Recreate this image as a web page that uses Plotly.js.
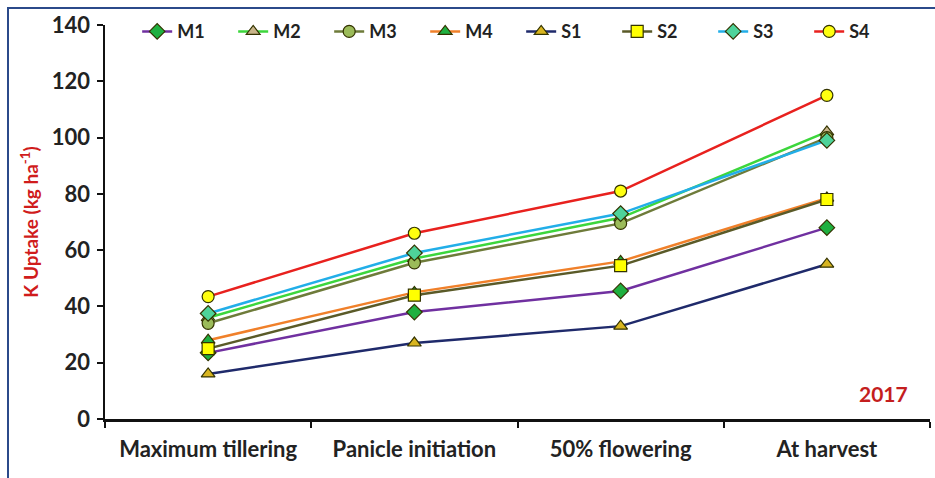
<!DOCTYPE html>
<html>
<head>
<meta charset="utf-8">
<script src="https://cdn.plot.ly/plotly-3.0.1.min.js"></script>
<style>
  html, body { margin: 0; padding: 0; background: #fff; }
  #wrap { position: relative; width: 935px; height: 478px; overflow: hidden; }
  #chart { width: 935px; height: 478px; }
  #frame { position: absolute; left: 7px; top: 7px; width: 940px; height: 490px;
           border-left: 2px solid #2B4A8A; border-top: 2px solid #2B4A8A; pointer-events: none; }
</style>
</head>
<body>
<div id="wrap"><div id="chart"></div><div id="frame"></div></div>
<script>
const stages = ["Maximum tillering", "Panicle initiation", "50% flowering", "At harvest"];

const M1 = [23.5, 38, 45.5, 68];
const M2 = [36, 57, 71.5, 102];
const M3 = [34, 55.5, 69.5, 100];
const M4 = [28, 45, 56, 78.5];
const S1 = [16, 27, 33, 55];
const S2 = [25, 44, 54.5, 78];
const S3 = [37.5, 59, 73, 99];
const S4 = [43.5, 66, 81, 115];

const seriesNames = ["M1", "M2", "M3", "M4", "S1", "S2", "S3", "S4"];
const seriesData = [M1, M2, M3, M4, S1, S2, S3, S4];
const lineColors = ["#7030A0", "#3CD63C", "#6E7B3A", "#F0802A", "#1F2A6B", "#5A5A28", "#22AEE8", "#E8211E"];
const markerSymbols = ["diamond", "triangle-up", "circle", "triangle-up", "triangle-up", "square", "diamond", "circle"];
const markerFills = ["#1FB040", "#C9B58A", "#9BBB59", "#1FB040", "#D8B520", "#FFFF00", "#4ED39A", "#FFFF10"];

const traces = seriesNames.map((n, i) => ({
  type: "scatter",
  mode: "lines+markers",
  name: n,
  x: stages,
  y: seriesData[i],
  line: { color: lineColors[i], width: 2.5 },
  marker: { symbol: markerSymbols[i], size: 12, color: markerFills[i],
            line: { color: "#333300", width: 1.2 } }
}));

const layout = {
  width: 935, height: 478,
  margin: { l: 105, r: 5, t: 25, b: 59 },
  paper_bgcolor: "#fff", plot_bgcolor: "#fff",
  font: { family: "Lato, 'Open Sans', sans-serif", color: "#222" },
  showlegend: true,
  legend: {
    orientation: "h", x: 0.039, y: 1.03, xanchor: "left", yanchor: "top",
    entrywidth: 51, entrywidthmode: "pixels",
    font: { size: 18, family: "Lato, sans-serif", weight: "bold", color: "#222" },
    bgcolor: "rgba(0,0,0,0)", traceorder: "normal"
  },
  xaxis: {
    type: "category", range: [-0.5, 3.5], autorange: false,
    showline: true, linecolor: "#111", linewidth: 2.5,
    ticks: "outside", ticklen: 6, tickwidth: 2, tickcolor: "#111",
    tickson: "boundaries", ticklabelstandoff: 9,
    showgrid: false, zeroline: false,
    tickfont: { size: 22, family: "Lato, sans-serif", weight: "bold", color: "#222" }
  },
  yaxis: {
    range: [0, 140], dtick: 20, autorange: false,
    showline: true, linecolor: "#111", linewidth: 2.5,
    ticks: "outside", ticklen: 6, tickwidth: 2, tickcolor: "#111",
    showgrid: false, zeroline: false, ticklabelstandoff: 2,
    tickfont: { size: 22, family: "Lato, sans-serif", weight: "bold", color: "#222" },
    title: { text: "K Uptake (kg ha<sup>-1</sup>)", standoff: 8,
             font: { size: 19, family: "Lato, sans-serif", weight: "bold", color: "#D01C1C" } }
  },
  annotations: [{
    xref: "paper", yref: "paper", x: 0.976, y: 0.065, xanchor: "right", yanchor: "middle",
    text: "<b>2017</b>", showarrow: false,
    font: { size: 21, family: "Lato, sans-serif", color: "#C41E1E" }
  }]
};

Plotly.newPlot("chart", traces, layout, { displayModeBar: false, staticPlot: true });
</script>
</body>
</html>
